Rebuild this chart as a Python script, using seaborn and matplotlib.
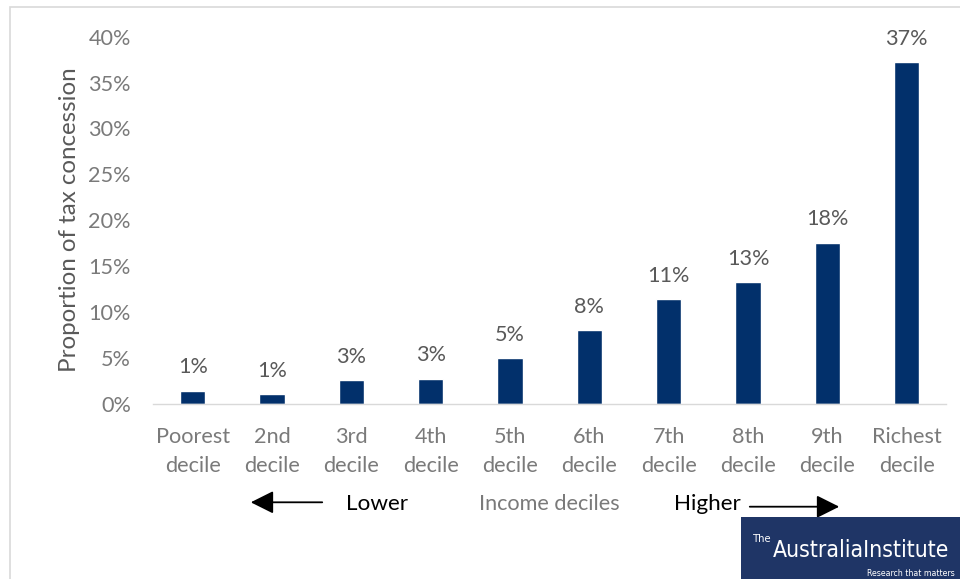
import matplotlib
matplotlib.use("Agg")
import matplotlib.pyplot as plt
from matplotlib import font_manager
from matplotlib.font_manager import FontProperties
from matplotlib.patches import Rectangle, FancyArrowPatch
import seaborn as sns
import pandas as pd

# Share of the tax concession received by each income decile (%)
deciles = ["Poorest\ndecile", "2nd\ndecile", "3rd\ndecile", "4th\ndecile", "5th\ndecile",
           "6th\ndecile", "7th\ndecile", "8th\ndecile", "9th\ndecile", "Richest\ndecile"]
share = [1.4, 1.0, 2.55, 2.7, 4.95, 8.0, 11.4, 13.25, 17.55, 37.2]
y_ticks = [0, 5, 10, 15, 20, 25, 30, 35, 40]

BAR = "#02306B"
TXT = "#595959"
TICK = "#7A7A7A"
AXIS = "#D9D9D9"
LOGO = "#1F3566"
FS = 15.6

sns.set_theme(style="white")
plt.rcParams["font.family"] = ["Lato", "DejaVu Sans"]

W, H = 960, 579
fig = plt.figure(figsize=(W / 100, H / 100), dpi=100)

# outer chart frame (only top and left edges fall inside the canvas)
fig.patches.append(Rectangle((10 / W, -0.05), 1.1, (H - 7.3) / H + 0.05,
                             transform=fig.transFigure, fill=False,
                             edgecolor=AXIS, linewidth=1.2, zorder=0))

ax = fig.add_axes([153 / W, (H - 403.5) / H, (946.3 - 153) / W, (403.5 - 36.7) / H])
df = pd.DataFrame({"decile": deciles, "share": share})
sns.barplot(data=df, x="decile", y="share", color=BAR, saturation=1,
            width=0.32, ax=ax, zorder=2)

ax.set_ylim(0, 40)
ax.set_xlim(-0.5, len(deciles) - 0.5)
ax.set_yticks(y_ticks)
ax.set_yticklabels([f"{t}%" for t in y_ticks])
ax.tick_params(axis="y", length=0, pad=16, labelsize=FS, labelcolor=TICK)
ax.tick_params(axis="x", length=0, pad=17, labelsize=FS, labelcolor=TICK)
for lbl in ax.get_xticklabels():
    lbl.set_linespacing(1.53)
ax.grid(False)
for side in ["left", "right", "top"]:
    ax.spines[side].set_visible(False)
ax.spines["bottom"].set_color(AXIS)
ax.spines["bottom"].set_linewidth(1.0)
ax.patch.set_alpha(0)

ax.set_xlabel("")
ax.set_ylabel("Proportion of tax concession", fontsize=17.4, color=TXT, labelpad=6)

# value labels above bars
for i, v in enumerate(share):
    ax.annotate(f"{v:.0f}%", xy=(i, v), xytext=(0, 12.5), textcoords="offset points",
                ha="center", va="baseline", fontsize=FS, color=TXT)

# axis title with direction arrows
fig.text(549.5 / W, 1 - 503.5 / H, "Income deciles", ha="center", va="center",
         fontsize=FS, color=TICK)
fig.text(376.5 / W, 1 - 503.5 / H, "Lower", ha="center", va="center",
         fontsize=FS + 0.6, color="black")
fig.text(707 / W, 1 - 503.5 / H, "Higher", ha="center", va="center",
         fontsize=FS + 0.6, color="black")
arrow_kw = dict(transform=fig.transFigure, arrowstyle="-|>,head_length=1.0,head_width=0.5",
                mutation_scale=14, color="black", linewidth=1.3)
fig.patches.append(FancyArrowPatch((325 / W, 1 - 502.3 / H), (248 / W, 1 - 502.3 / H), **arrow_kw))
fig.patches.append(FancyArrowPatch((747 / W, 1 - 506.7 / H), (842 / W, 1 - 506.7 / H), **arrow_kw))

# publisher badge
fig.patches.append(Rectangle((740.7 / W, 0), (W - 740.7) / W + 0.01, (H - 516.7) / H,
                             transform=fig.transFigure, facecolor=LOGO,
                             edgecolor="none", zorder=3))


def _is_regular(f):
    return f.weight in (400, 500, "normal", "regular", "book", "medium")


condensed = [f for f in font_manager.fontManager.ttflist
             if f.stretch in ("condensed", "semi-condensed", "extra-condensed")
             and f.style == "normal"]
regular_condensed = [f for f in condensed if _is_regular(f)]
if regular_condensed:
    badge_font = FontProperties(fname=regular_condensed[0].fname)
elif condensed:
    badge_font = FontProperties(fname=condensed[0].fname)
else:
    badge_font = FontProperties(family="Roboto")

renderer = fig.canvas.get_renderer()


def fit_text(x0, x1, y, s, size):
    """Place white badge text starting at x0, shrinking it until it ends by x1."""
    fp = badge_font.copy()
    fp.set_size(size)
    t = fig.text(x0 / W, 1 - y / H, s, ha="left", va="baseline",
                 fontproperties=fp, color="white", zorder=4)
    while t.get_window_extent(renderer).width > (x1 - x0) and size > 4:
        size -= 0.25
        fp.set_size(size)
        t.set_fontproperties(fp)
    return t


fit_text(753, 772, 542, "The", 10)
fit_text(773, 951, 556.7, "AustraliaInstitute", 22)
fit_text(867, 958, 575.5, "Research that matters", 8.6)

fig.savefig("out.png", dpi=100)
